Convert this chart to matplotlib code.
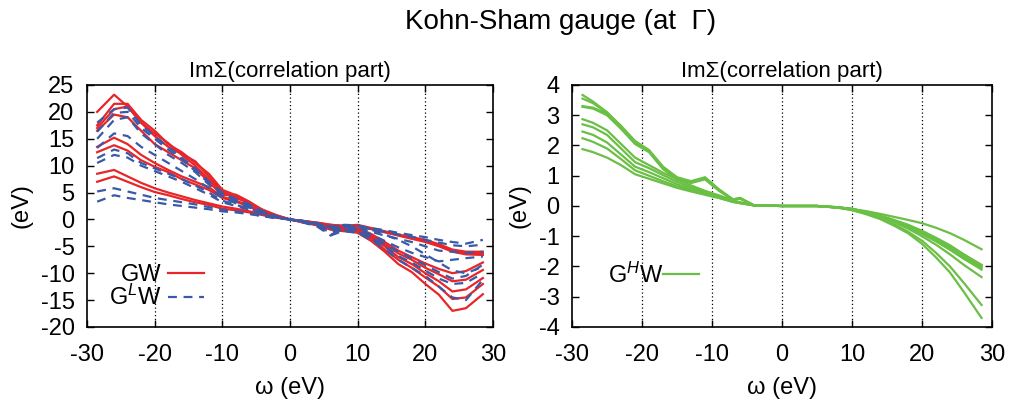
import numpy as np
import matplotlib.pyplot as plt

plt.rcParams['font.family'] = ['Liberation Sans', 'DejaVu Sans']
plt.rcParams['axes.unicode_minus'] = False
plt.rcParams['mathtext.fontset'] = 'custom'
plt.rcParams['mathtext.rm'] = 'Liberation Sans'
plt.rcParams['mathtext.it'] = 'Liberation Sans:italic'

# energy grid (eV)
omega = [-28.5, -26, -24, -22, -20, -18, -16, -14, -12, -10, -8, -6, -4, -2, 0,
         2, 4, 6, 8, 10, 12, 14, 16, 18, 20, 22, 24, 26, 28.5]

# GW (red, solid)
gw = [
    [20.0, 23.2, 21.0, 18.0, 16.0, 14.2, 12.0, 10.0, 7.5, 5.0, 4.3, 3.0, 1.8, 0.8, 0.0,
     -0.5, -1.0, -1.7, -2.0, -2.5, -4.0, -6.0, -8.3, -9.8, -12.0, -14.0, -17.0, -16.5, -13.9],
    [17.5, 21.5, 21.5, 18.5, 16.5, 14.0, 12.5, 10.5, 8.5, 5.5, 4.5, 3.2, 1.6, 0.7, 0.0,
     -0.5, -1.1, -1.9, -2.2, -2.2, -3.6, -5.6, -7.5, -9.0, -10.8, -12.5, -14.8, -14.5, -12.0],
    [17.0, 20.5, 21.0, 18.0, 15.5, 13.5, 12.2, 10.8, 8.0, 5.2, 4.0, 3.0, 1.5, 0.6, 0.0,
     -0.6, -1.0, -1.6, -2.1, -2.0, -3.3, -5.0, -7.0, -8.3, -10.0, -11.5, -13.4, -13.0, -10.9],
    [16.5, 19.5, 19.0, 16.5, 14.0, 12.5, 11.0, 9.5, 7.0, 4.5, 4.6, 3.3, 1.7, 0.7, 0.0,
     -0.4, -0.9, -1.5, -1.8, -1.8, -3.0, -4.6, -6.3, -7.5, -9.0, -10.2, -11.5, -11.2, -9.4],
    [13.5, 15.2, 14.0, 12.0, 10.5, 9.2, 8.0, 7.0, 6.0, 4.2, 3.5, 2.5, 1.3, 0.5, 0.0,
     -0.4, -0.8, -1.3, -1.6, -1.6, -2.7, -4.2, -5.8, -7.0, -8.2, -9.2, -10.0, -9.6, -8.0],
    [12.5, 13.8, 12.8, 11.0, 9.8, 8.8, 7.5, 6.5, 5.5, 4.0, 3.3, 2.4, 1.2, 0.5, 0.0,
     -0.3, -0.6, -1.0, -1.2, -1.0, -1.6, -2.2, -2.8, -3.3, -3.8, -4.6, -5.6, -6.0, -6.0],
    [8.5, 9.2, 8.0, 6.8, 5.8, 5.0, 4.3, 3.6, 3.0, 2.4, 2.0, 1.5, 0.9, 0.4, 0.0,
     -0.3, -0.6, -1.0, -1.2, -1.1, -1.7, -2.3, -2.9, -3.5, -4.0, -4.8, -5.8, -6.2, -6.3],
    [7.0, 8.0, 7.0, 6.0, 5.1, 4.5, 3.8, 3.2, 2.7, 2.0, 1.7, 1.3, 0.8, 0.3, 0.0,
     -0.3, -0.7, -1.1, -1.3, -1.2, -1.8, -2.4, -3.0, -3.6, -4.2, -5.0, -6.0, -6.5, -6.6],
]

# G^L W (blue, dashed)
glw = [
    [18.0, 20.5, 20.8, 17.5, 15.5, 13.5, 11.5, 9.5, 7.0, 5.0, 3.8, 2.8, 1.5, 0.6, 0.0,
     -0.5, -1.2, -2.8, -2.2, -2.5, -3.8, -5.5, -7.5, -9.0, -10.5, -12.5, -14.5, -15.0, -11.2],
    [16.3, 19.8, 20.0, 17.0, 15.0, 13.0, 11.2, 9.0, 6.8, 4.8, 3.6, 2.6, 1.4, 0.5, 0.0,
     -0.6, -1.3, -3.0, -2.0, -2.3, -3.5, -5.0, -6.8, -8.0, -9.5, -11.0, -12.0, -11.8, -10.0],
    [15.0, 18.5, 19.0, 16.0, 14.0, 12.0, 10.5, 8.8, 6.5, 4.5, 3.4, 2.4, 1.3, 0.5, 0.0,
     -0.5, -1.1, -2.5, -1.8, -2.0, -3.2, -4.6, -6.0, -7.2, -8.5, -9.8, -11.0, -10.5, -8.4],
    [13.3, 16.0, 15.5, 13.5, 12.0, 10.5, 9.0, 7.5, 5.8, 4.0, 3.0, 2.2, 1.2, 0.5, 0.0,
     -0.4, -1.0, -2.0, -1.6, -1.7, -2.8, -4.0, -5.2, -6.2, -7.0, -7.8, -7.5, -7.2, -6.9],
    [11.4, 13.0, 12.3, 10.5, 9.5, 8.5, 7.5, 6.3, 5.0, 3.5, 2.7, 2.0, 1.0, 0.4, 0.0,
     -0.4, -0.9, -1.6, -1.4, -1.5, -2.3, -3.0, -3.6, -4.2, -5.0, -5.8, -6.0, -6.2, -6.0],
    [10.5, 12.0, 11.5, 10.0, 9.0, 8.0, 7.0, 5.8, 4.6, 3.2, 2.5, 1.8, 0.9, 0.4, 0.0,
     -0.3, -0.8, -1.4, -1.2, -1.3, -1.8, -2.3, -2.8, -3.2, -3.8, -4.3, -4.8, -5.0, -4.7],
    [5.2, 5.8, 5.2, 4.6, 4.0, 3.6, 3.2, 2.8, 2.3, 1.8, 1.5, 1.1, 0.6, 0.3, 0.0,
     -0.3, -0.7, -1.3, -1.1, -1.2, -1.6, -2.0, -2.5, -2.9, -3.3, -3.8, -4.2, -4.5, -3.8],
    [3.3, 4.5, 4.0, 3.6, 3.2, 2.8, 2.5, 2.2, 1.9, 1.5, 1.3, 1.0, 0.6, 0.2, 0.0,
     -0.3, -0.8, -1.5, -1.0, -1.1, -1.9, -2.8, -3.8, -5.0, -6.5, -8.0, -9.5, -10.0, -8.8],
]

# G^H W (green), right panel
omega_h = [-28.5, -27, -25, -23, -21, -19, -17, -15, -13, -11, -9, -7, -6, -4, 0,
           5, 8, 10, 12, 14, 16, 18, 20, 22, 24, 26, 28.5]
ghw = [
    [3.67, 3.45, 3.1, 2.65, 2.15, 1.85, 1.3, 0.95, 0.82, 0.95, 0.55, 0.22, 0.27, 0.02, 0,
     0, -0.05, -0.13, -0.25, -0.4, -0.6, -0.85, -1.15, -1.55, -2.0, -2.55, -3.27],
    [3.55, 3.4, 3.08, 2.6, 2.1, 1.82, 1.28, 0.93, 0.8, 0.93, 0.53, 0.21, 0.26, 0.02, 0,
     0, -0.06, -0.14, -0.27, -0.43, -0.65, -0.9, -1.25, -1.7, -2.2, -2.85, -3.7],
    [3.3, 3.25, 3.05, 2.58, 2.08, 1.8, 1.25, 0.9, 0.78, 0.9, 0.52, 0.2, 0.25, 0.02, 0,
     0, -0.05, -0.11, -0.2, -0.32, -0.46, -0.62, -0.82, -1.05, -1.3, -1.6, -1.95],
    [3.28, 3.22, 3.0, 2.55, 2.05, 1.78, 1.22, 0.88, 0.76, 0.88, 0.5, 0.2, 0.24, 0.02, 0,
     0, -0.04, -0.1, -0.17, -0.26, -0.36, -0.46, -0.57, -0.72, -0.9, -1.12, -1.43],
    [2.87, 2.75, 2.5, 2.05, 1.6, 1.35, 1.1, 0.88, 0.68, 0.5, 0.35, 0.18, 0.12, 0.02, 0,
     0, -0.05, -0.1, -0.2, -0.32, -0.48, -0.66, -0.88, -1.12, -1.38, -1.68, -2.0],
    [2.7, 2.6, 2.35, 1.9, 1.45, 1.25, 1.02, 0.8, 0.62, 0.47, 0.33, 0.17, 0.12, 0.02, 0,
     0, -0.05, -0.1, -0.2, -0.33, -0.5, -0.7, -0.92, -1.17, -1.45, -1.75, -2.1],
    [2.46, 2.35, 2.1, 1.7, 1.3, 1.12, 0.92, 0.72, 0.56, 0.42, 0.3, 0.15, 0.1, 0.02, 0,
     0, -0.04, -0.1, -0.2, -0.35, -0.53, -0.75, -1.0, -1.28, -1.6, -1.95, -2.35],
    [2.24, 2.12, 1.9, 1.55, 1.18, 1.0, 0.82, 0.65, 0.52, 0.4, 0.28, 0.14, 0.1, 0.02, 0,
     0, -0.05, -0.1, -0.2, -0.33, -0.49, -0.67, -0.88, -1.1, -1.35, -1.62, -1.95],
    [1.88, 1.78, 1.6, 1.35, 1.05, 0.9, 0.75, 0.6, 0.48, 0.37, 0.26, 0.13, 0.09, 0.02, 0,
     0, -0.05, -0.1, -0.2, -0.34, -0.5, -0.7, -0.92, -1.15, -1.42, -1.72, -2.05],
]

xticks = [-30, -20, -10, 0, 10, 20, 30]
red = '#e8262a'
blue = '#3a5aa8'
green = '#6abf45'

fig = plt.figure(figsize=(10.13, 4.03), dpi=100)
ax1 = fig.add_axes([0.0859, 0.1886, 0.4008, 0.6005])
ax2 = fig.add_axes([0.5647, 0.1886, 0.4146, 0.6005])

for i, y in enumerate(gw):
    ax1.plot(omega, y, color=red, lw=1.6, label='GW' if i == 0 else None, zorder=3)
for i, y in enumerate(glw):
    ax1.plot(omega, y, color=blue, lw=1.6, ls=(0, (4, 3)),
             label='G$^{L}$W' if i == 0 else None, zorder=3)
for i, y in enumerate(ghw):
    ax2.plot(omega_h, y, color=green, lw=1.6, label='G$^{H}$W' if i == 0 else None)

ax1.set_ylim(-20, 25)
ax1.set_yticks(np.arange(-20, 26, 5))
ax2.set_ylim(-4, 4)
ax2.set_yticks(np.arange(-4, 5, 1))

for ax in (ax1, ax2):
    ax.set_xlim(-30, 30)
    ax.set_xticks(xticks)
    for xv in xticks[1:-1]:
        ax.axvline(xv, color='black', lw=0.9, ls=(0, (1, 2)), zorder=1)
    ax.tick_params(direction='in', top=True, right=True, labelsize=17,
                   length=5, width=1)
    ax.tick_params(axis='x', pad=12)
    ax.tick_params(axis='y', pad=9)
    for s in ax.spines.values():
        s.set_linewidth(1.2)
    ax.set_xlabel('ω (eV)', fontsize=17, labelpad=8)
    ax.set_ylabel('(eV)', fontsize=17, labelpad=6)
    ax.set_title('ImΣ(correlation part)', fontsize=16, pad=6)

ax1.legend(loc='upper right', bbox_to_anchor=(0.317, 0.31), frameon=False,
           markerfirst=False, fontsize=17, handlelength=1.5, handletextpad=0.3,
           labelspacing=-0.05, borderpad=0)
ax2.legend(loc='center right', bbox_to_anchor=(0.33, 0.215), frameon=False,
           markerfirst=False, fontsize=17, handlelength=1.5, handletextpad=0.0,
           borderpad=0)

fig.text(0.553, 0.945, 'Kohn-Sham gauge (at  Γ)', ha='center', va='center', fontsize=20)

fig.savefig('out.png', dpi=100)
